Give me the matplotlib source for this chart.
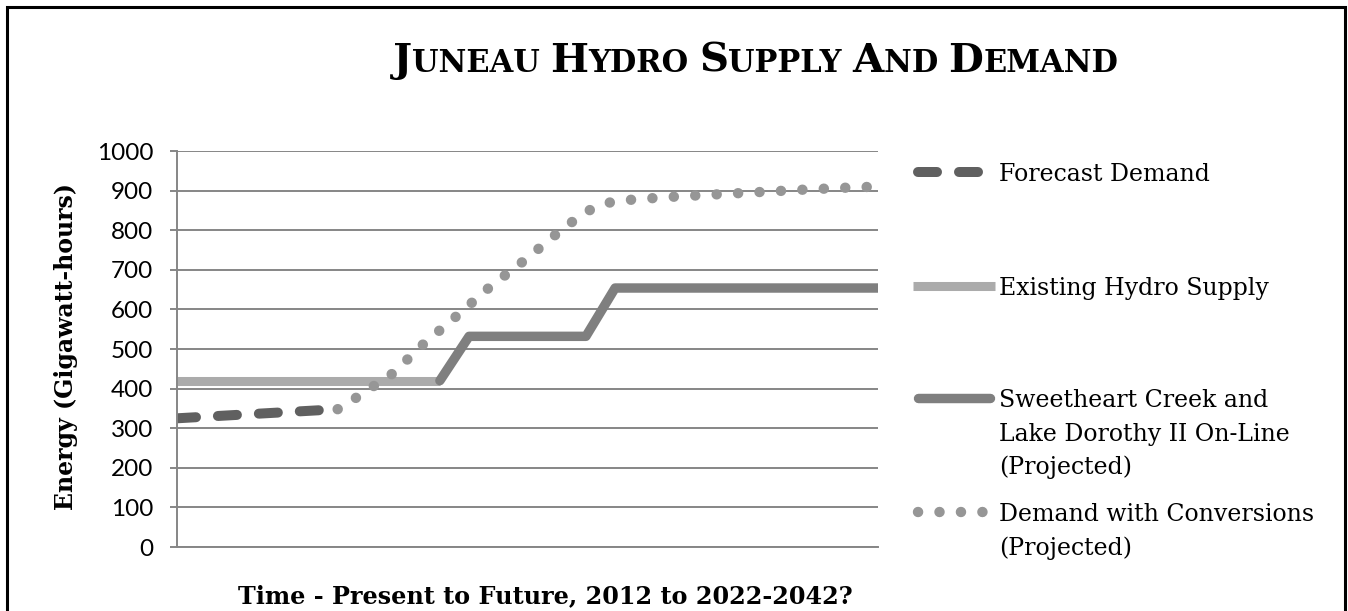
import matplotlib
matplotlib.use('Agg')
import matplotlib.pyplot as plt
from matplotlib.lines import Line2D
from matplotlib.patches import Rectangle

# Data (x in time steps, y in GWh)
forecast_x = [0, 5.5]
forecast_y = [325, 348]

hydro_x = [0, 9]
hydro_y = [420, 420]

sweet_x = [9, 10, 14, 15, 24]
sweet_y = [420, 532, 532, 654, 654]

conv_x = [5.5, 6.2, 7.4, 8.4, 9.6, 10.7, 11.9, 13.0, 13.6, 14.2, 14.9, 15.7,
          17.1, 18.6, 20.1, 21.6, 23.1, 24]
conv_y = [348, 380, 439, 510, 585, 656, 724, 791, 825, 854, 872, 878,
          885, 891, 897, 903, 908, 910]

y_ticks = [0, 100, 200, 300, 400, 500, 600, 700, 800, 900, 1000]

labels = ['Forecast Demand',
          'Existing Hydro Supply',
          'Sweetheart Creek and\nLake Dorothy II On-Line\n(Projected)',
          'Demand with Conversions\n(Projected)']

W, H = 1348, 611
SERIF = 'DejaVu Serif'
SANS = 'Lato'

# colours
c_fore = '#606060'
c_hydro = '#ababab'
c_sweet = '#7f7f7f'
c_conv = '#969696'
c_grid = '#868686'


def fx(px):
    return px / W


def fy(py):
    return 1 - py / H


fig = plt.figure(figsize=(W / 100, H / 100), dpi=100)
ax = fig.add_axes([fx(177), fy(547), (878 - 177) / W, (547 - 151) / H])

# Series (Excel draw order)
style_fore = dict(color=c_fore, lw=7.2, dashes=(1.9, 2.2),
                  dash_capstyle='round', solid_capstyle='round')
style_hydro = dict(color=c_hydro, lw=6.5, solid_capstyle='butt')
style_sweet = dict(color=c_sweet, lw=6.8, solid_capstyle='round',
                   solid_joinstyle='round')
style_conv = dict(color=c_conv, lw=7.5, dashes=(0.01, 2.05),
                  dash_capstyle='round')

ax.plot(forecast_x, forecast_y, **style_fore)
ax.plot(hydro_x, hydro_y, **style_hydro)
ax.plot(sweet_x, sweet_y, **style_sweet)
ax.plot(conv_x, conv_y, **style_conv)

ax.set_xlim(0, 24)
ax.set_ylim(0, 1000)
ax.set_yticks(y_ticks)
ax.set_xticks([])
ax.yaxis.grid(True, color=c_grid, lw=1.4)
ax.set_axisbelow(True)
for s in ['top', 'right']:
    ax.spines[s].set_visible(False)
for s in ['left', 'bottom']:
    ax.spines[s].set_color(c_grid)
    ax.spines[s].set_linewidth(1.4)
ax.tick_params(axis='y', length=5, width=1.4, color=c_grid, pad=12,
               labelsize=17.5)
for t in ax.get_yticklabels():
    t.set_fontfamily(SANS)

# Axis titles
fig.text(fx(66), fy(347), 'Energy (Gigawatt-hours)', rotation=90,
         ha='center', va='center', family=SERIF, weight='bold', fontsize=17)
fig.text(fx(545), fy(603), 'Time - Present to Future, 2012 to 2022-2042?',
         ha='center', va='baseline', family=SERIF, weight='bold', fontsize=17.2)

# Title in small caps
renderer = fig.canvas.get_renderer()
title_parts = [('J', 29), ('UNEAU ', 22), ('H', 29), ('YDRO ', 22),
               ('S', 29), ('UPPLY ', 22), ('A', 29), ('ND ', 22),
               ('D', 29), ('EMAND', 22)]
x_cur = 393
for txt, size in title_parts:
    t = fig.text(fx(x_cur), fy(72), txt, ha='left', va='baseline',
                 family=SERIF, weight='bold', fontsize=size)
    x_cur += t.get_window_extent(renderer).width

# Legend drawn by hand to keep Excel's spacing
key_y = [172, 286, 398, 512]
key_styles = [style_fore, style_hydro, style_sweet, style_conv]
key_ends = [(918, 982), (913, 995), (918, 990), (918, 985)]
for yk, st, (x0, x1) in zip(key_y, key_styles, key_ends):
    fig.add_artist(Line2D([fx(x0), fx(x1)], [fy(yk), fy(yk)],
                          transform=fig.transFigure, **st))
line_gap = 33.5
for yk, lab in zip(key_y, labels):
    for i, line in enumerate(lab.split('\n')):
        fig.text(fx(999), fy(yk + i * line_gap), line, ha='left',
                 va='center_baseline', family=SERIF, fontsize=17)

# Outer frame
fig.add_artist(Rectangle((fx(6.5), fy(640)), fx(1345 - 6.5), fy(7.5) - fy(640),
                         transform=fig.transFigure, fill=False,
                         edgecolor='black', lw=2.2))

fig.savefig('out.png', dpi=100)
